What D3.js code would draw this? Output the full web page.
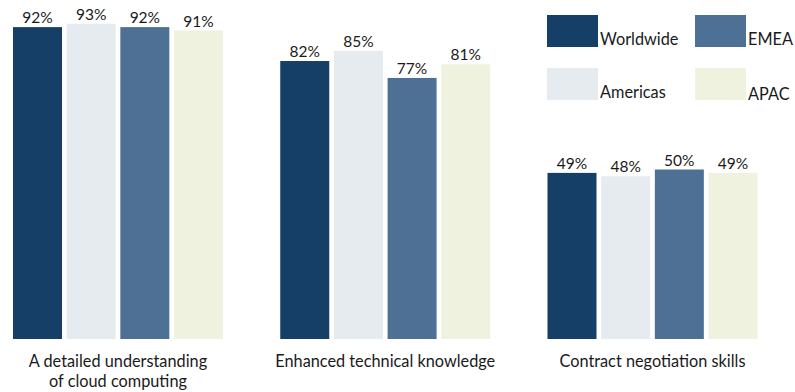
<!DOCTYPE html>
<html>
<head>
<meta charset="utf-8">
<script src="https://cdn.jsdelivr.net/npm/d3@7"></script>
<style>
  html, body { margin: 0; padding: 0; background: #fff; }
  svg { display: block; font-family: "Lato", "Open Sans", sans-serif; }
</style>
</head>
<body>
<svg id="chart" width="795" height="392"></svg>
<script>
// Skill categories (line breaks mark wrapped labels)
const categories = [
  "A detailed understanding\nof cloud computing",
  "Enhanced technical knowledge",
  "Contract negotiation skills"
];
const regions = ["Worldwide", "Americas", "EMEA", "APAC"];

// Share of respondents (%) per region, in category order
const worldwide = [92, 82, 49];
const americas  = [93, 85, 48];
const emea      = [92, 77, 50];
const apac      = [91, 81, 49];

const regionColors = ["#163f68", "#e6ebf0", "#4e7094", "#eef2df"];

const seriesValues = [worldwide, americas, emea, apac];
const rows = categories.map((c, i) => ({
  category: c,
  values: regions.map((r, j) => ({ region: r, value: seriesValues[j][i] }))
}));

const svg = d3.select("#chart");
const baseline = 339;

const x0 = d3.scaleBand().domain(categories).range([13, 757.5])
  .paddingInner(0.2142).paddingOuter(0);
const x1 = d3.scaleBand().domain(regions).range([0, x0.bandwidth()])
  .paddingInner(0.087).paddingOuter(0);
const y = d3.scaleLinear().domain([0, 100]).range([baseline, 0]);
const color = d3.scaleOrdinal().domain(regions).range(regionColors);

const groups = svg.append("g").selectAll("g")
  .data(rows).join("g")
  .attr("transform", d => `translate(${x0(d.category)},0)`);

groups.selectAll("rect")
  .data(d => d.values).join("rect")
  .attr("x", d => x1(d.region))
  .attr("y", d => y(d.value))
  .attr("width", x1.bandwidth())
  .attr("height", d => baseline - y(d.value))
  .attr("fill", d => color(d.region));

groups.selectAll("text.val")
  .data(d => d.values).join("text")
  .attr("class", "val")
  .attr("x", d => x1(d.region) + x1.bandwidth() / 2)
  .attr("y", d => y(d.value) - 4)
  .attr("text-anchor", "middle")
  .attr("font-size", 15.5)
  .attr("fill", "#1a1a1a")
  .text(d => d.value + "%");

// Category labels beneath each group
const catAxis = svg.append("g");
categories.forEach(c => {
  const t = catAxis.append("text")
    .attr("x", x0(c) + x0.bandwidth() / 2)
    .attr("y", 367)
    .attr("text-anchor", "middle")
    .attr("font-size", 16.3)
    .attr("fill", "#1a1a1a");
  c.split("\n").forEach((line, k) => {
    t.append("tspan")
      .attr("x", x0(c) + x0.bandwidth() / 2)
      .attr("dy", k === 0 ? 0 : 20)
      .text(line);
  });
});

// Legend: two columns, two rows
const legendCols = [547, 695];
const legendRows = [15, 68];
const legendOrder = ["Worldwide", "EMEA", "Americas", "APAC"];
const legend = svg.append("g");
legendOrder.forEach((r, i) => {
  const lx = legendCols[i % 2];
  const ly = legendRows[Math.floor(i / 2)];
  legend.append("rect")
    .attr("x", lx).attr("y", ly)
    .attr("width", 51).attr("height", 32)
    .attr("fill", color(r));
  legend.append("text")
    .attr("x", lx + 53)
    .attr("y", ly + 30 + (i === 3 ? 2 : 0))
    .attr("font-size", 16.3)
    .attr("fill", "#1a1a1a")
    .text(r);
});
</script>
</body>
</html>
